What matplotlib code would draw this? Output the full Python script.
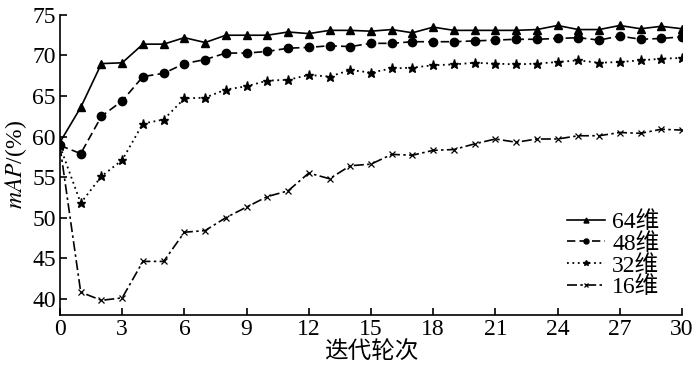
import matplotlib
matplotlib.use("Agg")
import matplotlib.pyplot as plt

# ----------------------------
# Data
# ----------------------------
epochs = list(range(31))

map_64 = [59.3, 63.6, 69.0, 69.1, 71.4, 71.4, 72.2, 71.6, 72.5, 72.5,
          72.5, 72.9, 72.7, 73.1, 73.1, 73.0, 73.2, 72.8, 73.5, 73.1,
          73.1, 73.1, 73.1, 73.2, 73.7, 73.2, 73.2, 73.7, 73.3, 73.6, 73.3]

map_48 = [58.9, 57.9, 62.5, 64.4, 67.4, 67.8, 69.0, 69.5, 70.3, 70.3,
          70.5, 70.9, 71.0, 71.2, 71.1, 71.5, 71.5, 71.7, 71.7, 71.7,
          71.8, 71.9, 72.0, 72.0, 72.1, 72.2, 71.9, 72.4, 72.0, 72.1, 72.3]

map_32 = [58.8, 51.8, 55.1, 57.1, 61.6, 62.1, 64.7, 64.8, 65.8, 66.2,
          66.9, 67.0, 67.6, 67.4, 68.2, 67.9, 68.4, 68.5, 68.8, 68.9,
          69.1, 69.0, 68.9, 69.0, 69.2, 69.4, 69.1, 69.2, 69.4, 69.6, 69.7]

map_16 = [58.8, 40.8, 39.8, 40.1, 44.6, 44.6, 48.2, 48.4, 50.0, 51.3,
          52.6, 53.3, 55.5, 54.8, 56.4, 56.6, 57.8, 57.7, 58.3, 58.4,
          59.1, 59.7, 59.3, 59.7, 59.7, 60.1, 60.1, 60.5, 60.4, 60.9, 60.8]

labels = ["64维", "48维", "32维", "16维"]
x_ticks = list(range(0, 31, 3))
y_ticks = [40, 45, 50, 55, 60, 65, 70, 75]

# ----------------------------
# Fonts
# ----------------------------
plt.rcParams["font.family"] = ["Liberation Serif", "Noto Sans CJK SC"]
plt.rcParams["mathtext.fontset"] = "stix"
plt.rcParams["font.size"] = 17

# ----------------------------
# Plot
# ----------------------------
fig = plt.figure(figsize=(7, 3.74), dpi=100)
ax = fig.add_axes([0.0857, 0.158, 0.8886, 0.802])

ax.plot(epochs, map_64, color="black", linestyle="-", linewidth=1.2,
        marker="^", markersize=6, label=labels[0])
ax.plot(epochs, map_48, color="black", linestyle=(0, (5, 2.5)), linewidth=1.2,
        marker="o", markersize=6, label=labels[1])
ax.plot(epochs, map_32, color="black", linestyle=(0, (1, 2)), linewidth=1.3,
        marker="*", markersize=6.5, label=labels[2])
ax.plot(epochs, map_16, color="black", linestyle=(0, (6, 2, 1.5, 2)), linewidth=1.2,
        marker="x", markersize=5, markeredgewidth=0.9, label=labels[3])

ax.set_xlim(0, 30)
ax.set_ylim(38, 75)
ax.set_xticks(x_ticks)
ax.set_yticks(y_ticks)

ax.spines["top"].set_visible(False)
ax.spines["right"].set_visible(False)
ax.spines["left"].set_linewidth(1.2)
ax.spines["bottom"].set_linewidth(1.2)
ax.tick_params(direction="in", length=5, width=1.2, labelsize=17, pad=3)

ax.set_xlabel("迭代轮次", fontsize=17, labelpad=1)
ax.set_ylabel("$mAP$/(%)", fontsize=17, labelpad=2)

ax.legend(loc="lower right", bbox_to_anchor=(0.99, 0.0), frameon=False,
          fontsize=17, handlelength=1.6, handletextpad=0.3,
          labelspacing=0.0, markerscale=0.6, numpoints=1, borderpad=0.2)

fig.savefig("out.png", dpi=100)
